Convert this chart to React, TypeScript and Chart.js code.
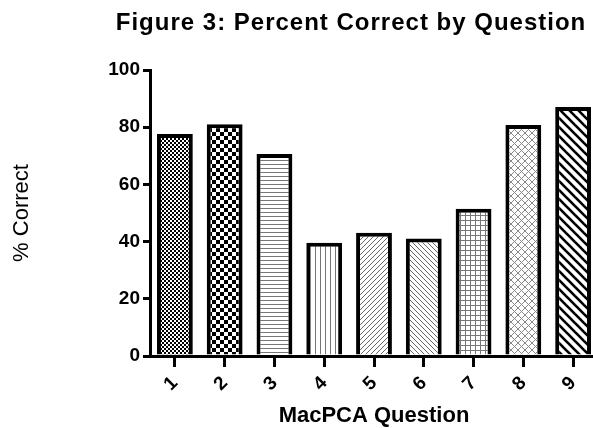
import React, { useEffect, useRef } from "react";
import { Chart, registerables } from "chart.js";

Chart.register(...registerables);

const categories = ["1", "2", "3", "4", "5", "6", "7", "8", "9"];
const percentCorrect = [77.6, 81, 70.6, 39.6, 43.1, 41.1, 51.5, 80.8, 87.1];
const yTickValues = [0, 20, 40, 60, 80, 100];
const chartTitle = "Figure 3: Percent Correct by Question";
const yAxisTitle = "% Correct";
const xAxisTitle = "MacPCA Question";
const patternKinds = ["fineCheck", "check", "hlines", "vlines", "fdiag", "bdiag", "grid", "weave", "thickBdiag"];

const FONT = "'Liberation Sans', Arial, sans-serif";

function makePattern(kind: string): CanvasPattern | string {
  const sizes: Record<string, number> = {
    fineCheck: 4, check: 8, hlines: 4, vlines: 5, fdiag: 5, bdiag: 5, grid: 5, weave: 7, thickBdiag: 9,
  };
  const size = sizes[kind] || 4;
  const c = document.createElement("canvas");
  c.width = size;
  c.height = size;
  const g = c.getContext("2d")!;
  g.fillStyle = "#fff";
  g.fillRect(0, 0, size, size);
  switch (kind) {
    case "fineCheck":
      g.fillStyle = "#000";
      g.fillRect(0, 0, 2, 2);
      g.fillRect(2, 2, 2, 2);
      break;
    case "check":
      g.fillStyle = "#000";
      g.fillRect(0, 0, 4, 4);
      g.fillRect(4, 4, 4, 4);
      break;
    case "hlines":
      g.fillStyle = "#777";
      g.fillRect(0, 0, size, 1);
      break;
    case "vlines":
      g.fillStyle = "#777";
      g.fillRect(0, 0, 1, size);
      break;
    case "fdiag":
      g.fillStyle = "#666";
      for (let i = 0; i < size; i++) g.fillRect(i, size - 1 - i, 1, 1);
      break;
    case "bdiag":
      g.fillStyle = "#666";
      for (let i = 0; i < size; i++) g.fillRect(i, i, 1, 1);
      break;
    case "grid":
      g.fillStyle = "#777";
      g.fillRect(0, 0, size, 1);
      g.fillRect(0, 0, 1, size);
      break;
    case "weave":
      g.fillStyle = "#888";
      for (let i = 0; i < size; i++) {
        g.fillRect(i, i, 1, 1);
        g.fillRect(i, size - 1 - i, 1, 1);
      }
      break;
    case "thickBdiag":
      g.strokeStyle = "#000";
      g.lineWidth = 2.6;
      for (let k = -1; k <= 1; k++) {
        g.beginPath();
        g.moveTo(k * size - 1, -1);
        g.lineTo(k * size + size + 1, size + 1);
        g.stroke();
      }
      break;
  }
  const ctx = document.createElement("canvas").getContext("2d")!;
  return ctx.createPattern(c, "repeat") || "#fff";
}

const titlePlugin = {
  id: "figureTitle",
  afterDraw(chart: any) {
    const ctx = chart.ctx as CanvasRenderingContext2D;
    ctx.save();
    ctx.font = `bold 24px ${FONT}`;
    (ctx as any).letterSpacing = "1px";
    ctx.fillStyle = "#000";
    ctx.textAlign = "center";
    ctx.textBaseline = "alphabetic";
    ctx.fillText(chartTitle, 351, 30);
    ctx.restore();
  },
};

export default function App() {
  const ref = useRef<HTMLCanvasElement | null>(null);

  useEffect(() => {
    document.body.style.margin = "0";
    document.body.style.overflow = "hidden";
    const canvas = ref.current!;
    const patterns = patternKinds.map(makePattern);
    const chart = new Chart(canvas, {
      type: "bar",
      data: {
        labels: categories,
        datasets: [
          {
            data: percentCorrect,
            backgroundColor: patterns as any,
            borderColor: "#000",
            borderWidth: 4,
            categoryPercentage: 1,
            barPercentage: 0.72,
          },
        ],
      },
      plugins: [titlePlugin],
      options: {
        responsive: false,
        animation: false,
        devicePixelRatio: 1,
        layout: { padding: { top: 70, left: 0, right: 0, bottom: 0 } },
        plugins: {
          legend: { display: false },
          tooltip: { enabled: false },
          title: { display: false },
        },
        scales: {
          x: {
            offset: true,
            grid: {
              display: true,
              drawOnChartArea: false,
              drawTicks: true,
              tickLength: 11,
              lineWidth: 3,
              color: "#000",
              offset: false,
            },
            border: { display: true, width: 3, color: "#000" },
            ticks: {
              minRotation: 45,
              maxRotation: 45,
              color: "#000",
              padding: 5,
              font: { family: FONT, size: 19, weight: "bold" },
            },
            title: {
              display: true,
              text: xAxisTitle,
              color: "#000",
              font: { family: FONT, size: 22, weight: "bold", lineHeight: 1 },
              padding: { top: 0, bottom: 1 },
            },
            afterFit: (s: any) => {
              s.height = 72;
              s.paddingLeft = 0;
              s.paddingRight = 0;
            },
          },
          y: {
            min: 0,
            max: 100,
            grid: {
              display: true,
              drawOnChartArea: false,
              drawTicks: true,
              tickLength: 7,
              lineWidth: 3,
              color: "#000",
            },
            border: { display: true, width: 3, color: "#000" },
            ticks: {
              stepSize: 20,
              color: "#000",
              padding: 3,
              font: { family: FONT, size: 19, weight: "bold" },
            },
            afterBuildTicks: (s: any) => {
              s.ticks = yTickValues.map((v) => ({ value: v }));
            },
            title: {
              display: true,
              text: yAxisTitle,
              color: "#000",
              font: { family: FONT, size: 22 },
              padding: { top: 9, bottom: 0 },
            },
            afterFit: (s: any) => {
              s.width = 150;
            },
          },
        },
      } as any,
    });
    return () => chart.destroy();
  }, []);

  return (
    <div style={{ position: "fixed", left: 0, top: 0, width: 593, height: 428, overflow: "hidden", background: "#fff" }}>
      <canvas ref={ref} width={598} height={428} style={{ display: "block", width: 598, height: 428 }} />
    </div>
  );
}
